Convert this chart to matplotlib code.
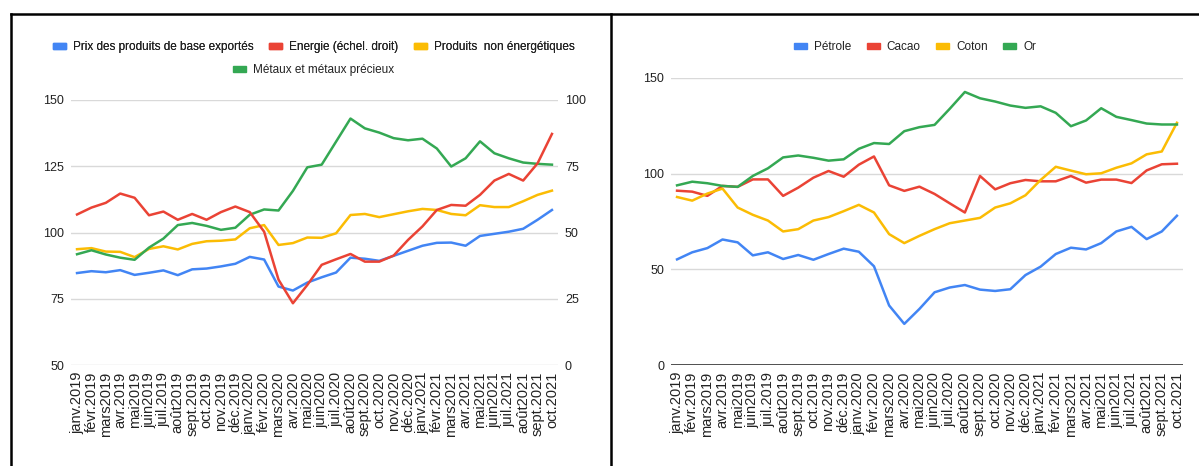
import numpy as np
import matplotlib
matplotlib.use("Agg")
import matplotlib.pyplot as plt
from matplotlib.patches import Patch
from matplotlib.lines import Line2D

mois = ["janv.2019", "févr.2019", "mars2019", "avr.2019", "mai2019", "juin2019",
        "juil.2019", "août2019", "sept.2019", "oct.2019", "nov.2019", "déc.2019",
        "janv.2020", "févr.2020", "mars2020", "avr.2020", "mai2020", "juin2020",
        "juil.2020", "août2020", "sept.2020", "oct.2020", "nov.2020", "déc.2020",
        "janv.2021", "févr.2021", "mars2021", "avr.2021", "mai2021", "juin2021",
        "juil.2021", "août2021", "sept.2021", "oct.2021"]

# Graphique de gauche : indices des prix (axe gauche) et énergie (axe droit)
prix_base = [84.7, 85.4, 85.0, 85.8, 84.0, 84.8, 85.7, 83.9, 86.1, 86.4, 87.2, 88.2,
             90.8, 89.8, 79.6, 78.1, 81.1, 83.1, 84.9, 90.5, 90.1, 89.3, 91.2, 93.1,
             95.0, 96.1, 96.2, 95.0, 98.7, 99.5, 100.3, 101.4, 104.8, 108.5]
energie = [56.8, 59.4, 61.2, 64.7, 63.1, 56.5, 57.9, 54.8, 57.0, 54.8, 57.7, 59.8,
           57.7, 50.3, 32.2, 23.3, 30.2, 37.8, 39.9, 41.9, 39.0, 39.0, 41.3, 47.2,
           52.3, 58.5, 60.4, 60.1, 64.2, 69.6, 72.1, 69.6, 76.1, 87.2]
non_energie = [93.7, 94.1, 92.8, 92.7, 90.7, 93.8, 94.8, 93.6, 95.7, 96.7, 96.9, 97.4,
               101.6, 102.8, 95.3, 96.0, 98.1, 98.0, 99.7, 106.6, 107.0, 105.8, 106.9, 108.0,
               108.9, 108.5, 107.0, 106.5, 110.3, 109.6, 109.6, 111.8, 114.2, 115.8]
metaux = [91.8, 93.3, 91.7, 90.5, 89.7, 94.3, 97.7, 102.8, 103.6, 102.5, 101.0, 101.8,
          106.7, 108.7, 108.3, 115.7, 124.6, 125.6, 134.3, 143.0, 139.3, 137.7, 135.6, 134.8,
          135.4, 131.7, 124.9, 128.0, 134.4, 129.9, 128.0, 126.4, 125.9, 125.6]

# Graphique de droite : matières premières
petrole = [55.2, 58.9, 61.1, 65.6, 64.1, 57.3, 58.9, 55.4, 57.5, 55.0, 58.0, 60.8,
           59.2, 51.6, 31.1, 21.5, 29.3, 38.0, 40.5, 41.8, 39.4, 38.7, 39.6, 47.0,
           51.4, 58.0, 61.3, 60.4, 63.7, 69.8, 72.2, 65.8, 69.8, 78.0]
cacao = [91.1, 90.6, 88.4, 93.6, 93.1, 97.0, 97.0, 88.4, 92.7, 97.9, 101.4, 98.4,
         104.7, 109.0, 93.9, 91.0, 93.2, 89.4, 84.5, 79.7, 98.8, 91.8, 95.0, 96.7,
         96.0, 96.0, 98.8, 95.3, 96.9, 96.9, 95.1, 101.7, 104.9, 105.2]
coton = [87.8, 85.9, 89.6, 92.2, 82.3, 78.5, 75.5, 69.8, 71.0, 75.5, 77.3, 80.4,
         83.7, 79.7, 68.4, 63.7, 67.5, 71.0, 74.1, 75.5, 76.9, 82.3, 84.5, 88.7,
         96.7, 103.6, 101.6, 99.7, 100.2, 103.1, 105.4, 110.1, 111.6, 126.6]
orr = [93.9, 95.8, 95.0, 93.6, 93.1, 98.8, 102.8, 108.5, 109.5, 108.3, 106.8, 107.5,
       113.0, 116.0, 115.5, 122.2, 124.3, 125.5, 133.9, 142.7, 139.4, 137.7, 135.6, 134.4,
       135.2, 131.8, 124.8, 127.8, 134.2, 129.7, 128.0, 126.2, 125.7, 125.7]

BLEU, ROUGE, JAUNE, VERT = "#4285F4", "#EA4335", "#FBBC04", "#34A853"
GRILLE = "#d9d9d9"
TEXTE = "#222222"
LW = 1.8

plt.rcParams["font.family"] = ["Liberation Sans", "DejaVu Sans"]
x = np.arange(len(mois))

fig = plt.figure(figsize=(11.99, 4.66), dpi=100)
W, H = 1199, 466


def px_axes(x0, y0, x1, y1):
    return fig.add_axes([x0 / W, 1 - y1 / H, (x1 - x0) / W, (y1 - y0) / H])


def habiller(ax, pad_x):
    for s in ax.spines.values():
        s.set_visible(False)
    ax.set_xlim(-pad_x, len(mois) - 1 + pad_x)
    ax.set_xticks(x)
    ax.set_xticklabels(mois, rotation=90)
    ax.tick_params(axis="both", length=0, colors=TEXTE)
    ax.tick_params(axis="x", pad=5, labelsize=10.5)
    ax.tick_params(axis="y", pad=5, labelsize=9)
    ax.grid(axis="y", color=GRILLE, lw=1)
    ax.grid(axis="x", visible=False)
    ax.set_axisbelow(True)


# --- gauche ---
ax1 = px_axes(71, 100, 558, 365)
habiller(ax1, 0.42)
ax1.set_ylim(50, 150)
ax1.set_yticks([50, 75, 100, 125, 150])
ax1.plot(x, prix_base, color=BLEU, lw=LW, zorder=3)
ax1.plot(x, non_energie, color=JAUNE, lw=LW, zorder=3)
ax1.plot(x, metaux, color=VERT, lw=LW, zorder=3)

ax1b = ax1.twinx()
ax1b.set_ylim(0, 100)
ax1b.set_yticks([0, 25, 50, 75, 100])
for s in ax1b.spines.values():
    s.set_visible(False)
ax1b.tick_params(axis="y", length=0, labelsize=9, colors=TEXTE, pad=5)
ax1b.plot(x, energie, color=ROUGE, lw=LW, zorder=4)

leg_kw = dict(frameon=False, fontsize=8.5, handlelength=1.1, handleheight=0.45,
              handletextpad=0.6, columnspacing=1.3, borderaxespad=0, labelcolor=TEXTE)
h1 = [Patch(color=BLEU), Patch(color=ROUGE), Patch(color=JAUNE)]
l1 = ["Prix des produits de base exportés", "Energie (échel. droit)",
      "Produits  non énergétiques"]
lg1 = fig.legend(h1, l1, ncol=3, loc="center", bbox_to_anchor=(314 / W, 1 - 47 / H), **leg_kw)
fig.add_artist(lg1)
fig.legend([Patch(color=VERT)], ["Métaux et métaux précieux"], loc="center",
           bbox_to_anchor=(314 / W, 1 - 70 / H), **leg_kw)

# --- droite ---
ax2 = px_axes(671, 78, 1183, 365)
habiller(ax2, 0.4)
ax2.set_ylim(0, 150)
ax2.set_yticks([0, 50, 100, 150])
ax2.axhline(0, color="#333333", lw=1.2, zorder=2)
ax2.plot(x, petrole, color=BLEU, lw=LW, zorder=3)
ax2.plot(x, cacao, color=ROUGE, lw=LW, zorder=3)
ax2.plot(x, coton, color=JAUNE, lw=LW, zorder=3)
ax2.plot(x, orr, color=VERT, lw=LW, zorder=3)

fig.legend([Patch(color=c) for c in (BLEU, ROUGE, JAUNE, VERT)],
           ["Pétrole", "Cacao", "Coton", "Or"], ncol=4, loc="center",
           bbox_to_anchor=(915 / W, 1 - 47 / H), **leg_kw)

# cadres noirs
for (xa, ya, xb, yb) in [(11, 14, W, 14), (11, 14, 11, H), (611, 14, 611, H)]:
    fig.add_artist(Line2D([xa / W, xb / W], [1 - ya / H, 1 - yb / H],
                          color="black", lw=1.8, transform=fig.transFigure))

fig.savefig("out.png", dpi=100)
